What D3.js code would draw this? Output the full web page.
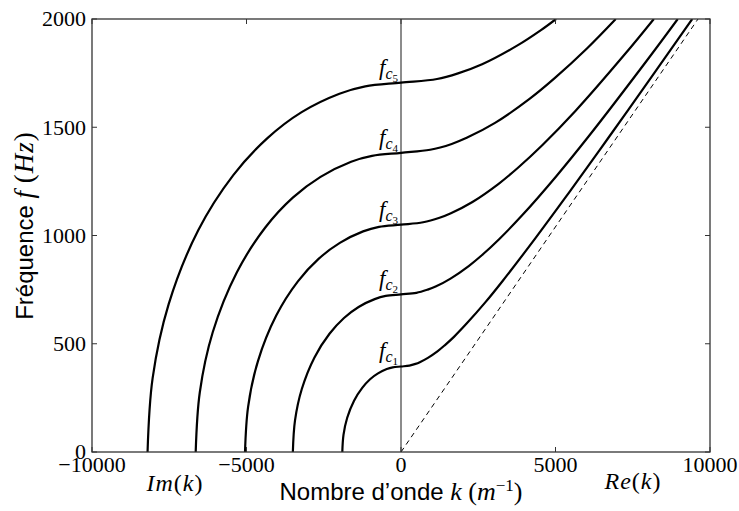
<!DOCTYPE html>
<html><head><meta charset="utf-8">
<script src="https://cdn.jsdelivr.net/npm/d3@7"></script>
<style>body{margin:0;background:#fff}</style>
</head><body>
<svg id="chart" width="739" height="511"></svg>
<script>
// ---- data ----
const xTicks = [-10000, -5000, 0, 5000, 10000];
const yTicks = [0, 500, 1000, 1500, 2000];
const cutoffFreqs = [395, 728, 1050, 1382, 1706];
const modeSubscripts = ["1", "2", "3", "4", "5"];
// [k, f] points of each mode (negative k = imaginary part)
const mode1 = [[-1899,0],[-1861,79],[-1741,158],[-1519,237],[-1255,296],[-1001,336],[-744,363],[-461,383],[-268,391],[0,395],
  [270,399],[469,407],[608,415],[870,435],[1189,466],[1424,494],[1722,533],[2123,593],[2727,691],[3289,790],[4351,988],
  [5370,1185],[6369,1383],[7355,1580],[9303,1975],[9425,2000]];
const mode2 = [[-3500,0],[-3430,146],[-3210,291],[-2800,437],[-2314,546],[-1845,619],[-1372,670],[-851,706],[-494,721],[0,728],
  [497,735],[865,750],[1120,764],[1603,801],[2191,859],[2625,910],[3175,983],[3913,1092],[5026,1274],[6062,1456],[8019,1820],[8956,2000]];
const mode3 = [[-5048,0],[-4947,210],[-4629,420],[-4038,630],[-3337,788],[-2660,893],[-1979,966],[-1227,1019],[-712,1040],[0,1050],
  [717,1061],[1247,1082],[1615,1103],[2312,1155],[3160,1239],[3786,1313],[4579,1418],[5644,1575],[7249,1838],[8183,2000]];
const mode4 = [[-6644,0],[-6511,276],[-6093,553],[-5315,829],[-4392,1037],[-3501,1175],[-2604,1271],[-1614,1341],[-937,1368],[0,1382],
  [943,1396],[1641,1423],[2126,1451],[3043,1520],[4159,1631],[4983,1728],[6026,1865],[6950,2000]];
const mode5 = [[-8202,0],[-8038,341],[-7521,682],[-6562,1024],[-5421,1280],[-4322,1450],[-3215,1570],[-1993,1655],[-1157,1689],[0,1706],
  [1165,1723],[1845,1749],[2625,1791],[3757,1877],[4541,1950],[5017,2000]];
const modes = [mode1, mode2, mode3, mode4, mode5];
const lightLineK = [0, 9612];
const lightLineF = [0, 2000];

// ---- layout ----
const L = 92, R = 710, T = 19, B = 452;
const svg = d3.select("#chart");
const x = d3.scaleLinear().domain([-10000, 10000]).range([L, R]);
const y = d3.scaleLinear().domain([0, 2000]).range([B, T]);
const serif = "'Liberation Serif', 'Times New Roman', serif";
const sans = "'Liberation Sans', Arial, sans-serif";

svg.append("defs").append("clipPath").attr("id", "clip")
  .append("rect").attr("x", L).attr("y", T).attr("width", R - L).attr("height", B - T);

const plot = svg.append("g").attr("clip-path", "url(#clip)");

// vertical line at k = 0
plot.append("line").attr("x1", x(0)).attr("x2", x(0)).attr("y1", y(0)).attr("y2", y(2000))
  .attr("stroke", "#666").attr("stroke-width", 1.5);

// light line (dashed)
plot.append("line")
  .attr("x1", x(lightLineK[0])).attr("y1", y(lightLineF[0]))
  .attr("x2", x(lightLineK[1])).attr("y2", y(lightLineF[1]))
  .attr("stroke", "#000").attr("stroke-width", 1).attr("stroke-dasharray", "5,4");

const line = d3.line().x(d => x(d[0])).y(d => y(d[1])).curve(d3.curveCatmullRom.alpha(0.5));
plot.selectAll("path.mode").data(modes).join("path").attr("class", "mode")
  .attr("d", line).attr("fill", "none").attr("stroke", "#000").attr("stroke-width", 2.2);

// frame
svg.append("rect").attr("x", L).attr("y", T).attr("width", R - L).attr("height", B - T)
  .attr("fill", "none").attr("stroke", "#333").attr("stroke-width", 1.3);

// ticks (inward, all sides)
const tk = 5;
const tg = svg.append("g").attr("stroke", "#333").attr("stroke-width", 1);
xTicks.forEach(v => {
  tg.append("line").attr("x1", x(v)).attr("x2", x(v)).attr("y1", B).attr("y2", B - tk);
  tg.append("line").attr("x1", x(v)).attr("x2", x(v)).attr("y1", T).attr("y2", T + tk);
});
yTicks.forEach(v => {
  tg.append("line").attr("y1", y(v)).attr("y2", y(v)).attr("x1", L).attr("x2", L + tk);
  tg.append("line").attr("y1", y(v)).attr("y2", y(v)).attr("x1", R).attr("x2", R - tk);
});
const fmt = v => (v < 0 ? "\u2212" : "") + Math.abs(v);
svg.append("g").selectAll("text").data(xTicks).join("text")
  .attr("x", d => x(d)).attr("y", 472).attr("text-anchor", "middle")
  .attr("font-family", serif).attr("font-size", 22).attr("fill", "#000").text(fmt);
svg.append("g").selectAll("text").data(yTicks).join("text")
  .attr("x", 86).attr("y", d => y(d)).attr("dy", "0.33em").attr("text-anchor", "end")
  .attr("font-family", serif).attr("font-size", 22).attr("fill", "#000").text(fmt);

// cutoff labels
cutoffFreqs.forEach((fc, i) => {
  const t = svg.append("text").attr("x", 398).attr("y", y(fc) - 8).attr("text-anchor", "end")
    .attr("font-family", serif).attr("fill", "#000");
  t.append("tspan").attr("font-size", 23).attr("font-style", "italic").text("f");
  t.append("tspan").attr("font-size", 16).attr("font-style", "italic").attr("dy", 4).text("c");
  t.append("tspan").attr("font-size", 11).attr("dy", 3).text(modeSubscripts[i]);
});

// Im(k) / Re(k)
function mathLabel(xp, yp, a, b) {
  const t = svg.append("text").attr("x", xp).attr("y", yp).attr("text-anchor", "middle")
    .attr("font-family", serif).attr("font-size", 24).attr("letter-spacing", 1).attr("fill", "#000");
  t.append("tspan").attr("font-style", "italic").text(a);
  t.append("tspan").text("(");
  t.append("tspan").attr("font-style", "italic").text(b);
  t.append("tspan").text(")");
}
mathLabel(175, 491, "Im", "k");
mathLabel(633, 489, "Re", "k");

// x axis label
{
  const t = svg.append("text").attr("x", 401).attr("y", 500).attr("text-anchor", "middle")
    .attr("font-size", 24).attr("fill", "#000");
  t.append("tspan").attr("font-family", sans).text("Nombre d\u2019onde ");
  t.append("tspan").attr("font-family", serif).attr("font-style", "italic").attr("font-size", 26).text("k");
  t.append("tspan").attr("font-family", serif).attr("font-size", 26).text(" (");
  t.append("tspan").attr("font-family", serif).attr("font-style", "italic").attr("font-size", 26).text("m");
  t.append("tspan").attr("font-family", serif).attr("font-size", 17).attr("dy", -9).text("\u22121");
  t.append("tspan").attr("font-family", serif).attr("font-size", 26).attr("dy", 9).text(")");
}
// y axis label
{
  const t = svg.append("text").attr("transform", "translate(33,226) rotate(-90)")
    .attr("text-anchor", "middle").attr("font-size", 24).attr("fill", "#000");
  t.append("tspan").attr("font-family", sans).text("Fr\u00e9quence ");
  t.append("tspan").attr("font-family", serif).attr("font-style", "italic").attr("font-size", 27).text("f");
  t.append("tspan").attr("font-family", serif).attr("font-size", 27).attr("letter-spacing", 1).text(" (");
  t.append("tspan").attr("font-family", serif).attr("font-style", "italic").attr("font-size", 27).attr("letter-spacing", 1).text("Hz");
  t.append("tspan").attr("font-family", serif).attr("font-size", 27).text(")");
}
</script>
</body></html>
